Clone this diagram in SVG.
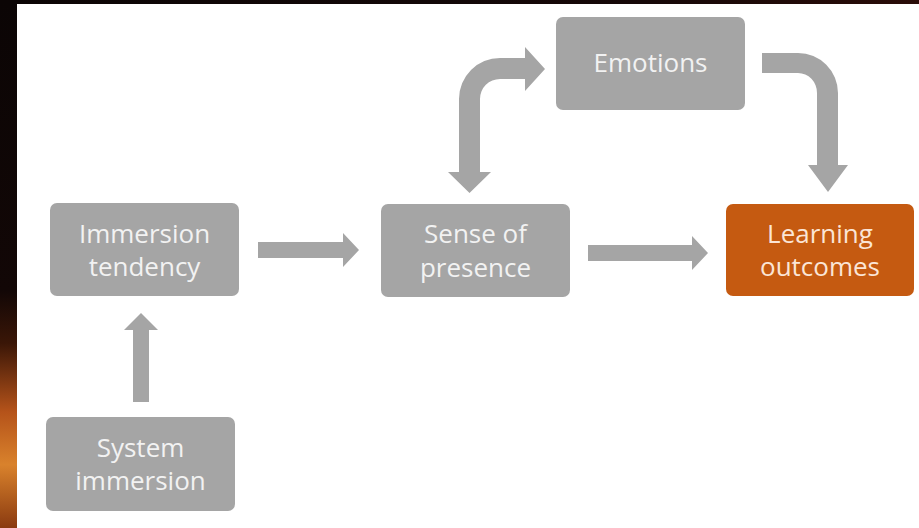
<svg xmlns="http://www.w3.org/2000/svg" width="919" height="528" viewBox="0 0 919 528">
  <defs>
    <linearGradient id="fire" x1="0" y1="0" x2="0" y2="1">
      <stop offset="0" stop-color="#0b0505"/>
      <stop offset="0.55" stop-color="#120706"/>
      <stop offset="0.65" stop-color="#3a1607"/>
      <stop offset="0.78" stop-color="#b5531a"/>
      <stop offset="0.88" stop-color="#d9822c"/>
      <stop offset="1" stop-color="#8a3a10"/>
    </linearGradient>
    <linearGradient id="topfire" x1="0" y1="0" x2="1" y2="0">
      <stop offset="0" stop-color="#0b0505"/>
      <stop offset="0.7" stop-color="#160808"/>
      <stop offset="1" stop-color="#2a0c08"/>
    </linearGradient>
    <style>
      .box { fill: #a5a5a5; }
      .hl { fill: #c55a11; }
      .t { font-family: "Open Sans", "Noto Sans", sans-serif; font-size: 26px; fill: #f2f2f2; text-anchor: middle; }
      .th { fill: #fbe5d6; }
      .arr { fill: #a5a5a5; }
    </style>
  </defs>
  <rect x="0" y="0" width="919" height="528" fill="url(#topfire)"/>
  <rect x="0" y="0" width="17" height="528" fill="url(#fire)"/>
  <rect x="17" y="4" width="902" height="524" fill="#ffffff"/>

  <g id="connectors">
    <path class="arr" d="M258 242 L343 242 L343 233 L359 250 L343 267 L343 258 L258 258 Z"/>
    <path class="arr" d="M588 245 L692 245 L692 236 L708 253 L692 270 L692 261 L588 261 Z"/>
    <path class="arr" d="M133 402 L133 330 L124 330 L141 313 L158 330 L149 330 L149 402 Z"/>
    <path class="arr" d="M459 172 L448 172 L469.5 193 L491 172 L480 172 L480 99 A20 20 0 0 1 500 79 L525 79 L525 91 L545 69 L525 47 L525 58 L500 58 A41 41 0 0 0 459 99 Z"/>
    <path class="arr" d="M762 53 L798 53 A40 40 0 0 1 838 93 L838 165 L848 165 L828 192 L808 165 L817 165 L817 93 A19 20 0 0 0 798 73 L762 73 Z"/>
  </g>

  <g id="node-immersion-tendency">
    <rect class="box" x="50" y="203" width="189" height="93" rx="7"/>
    <text class="t" x="144.5" y="243">Immersion</text>
    <text class="t" x="144.5" y="276">tendency</text>
  </g>
  <g id="node-system-immersion">
    <rect class="box" x="46" y="417" width="189" height="94" rx="7"/>
    <text class="t" x="140.5" y="457">System</text>
    <text class="t" x="140.5" y="490">immersion</text>
  </g>
  <g id="node-sense-of-presence">
    <rect class="box" x="381" y="204" width="189" height="93" rx="7"/>
    <text class="t" x="475.5" y="243">Sense of</text>
    <text class="t" x="475.5" y="277">presence</text>
  </g>
  <g id="node-emotions">
    <rect class="box" x="556" y="17" width="189" height="93" rx="7"/>
    <text class="t" x="650.5" y="72">Emotions</text>
  </g>
  <g id="node-learning-outcomes">
    <rect class="hl" x="726" y="204" width="188" height="92" rx="7"/>
    <text class="t th" x="820" y="243">Learning</text>
    <text class="t th" x="820" y="276">outcomes</text>
  </g>
</svg>
